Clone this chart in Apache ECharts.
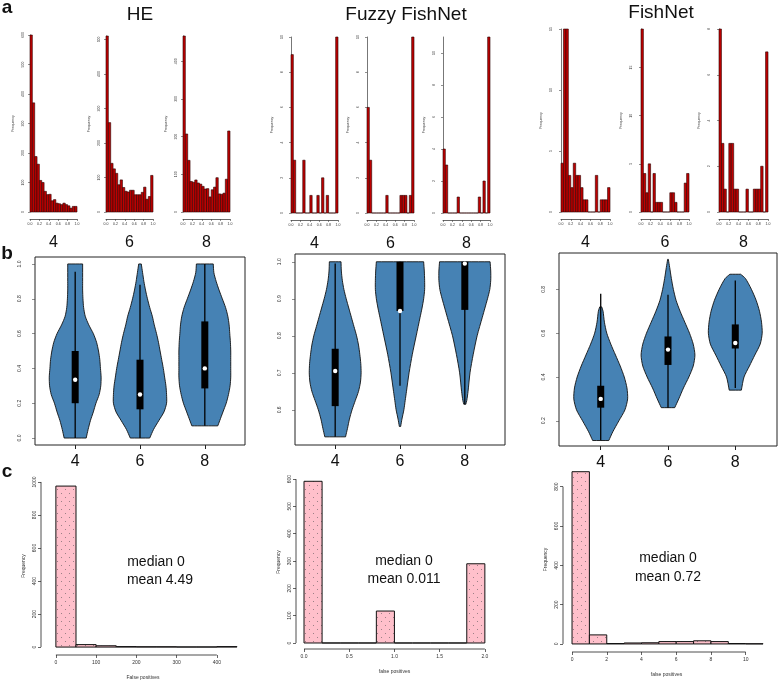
<!DOCTYPE html>
<html>
<head>
<meta charset="utf-8">
<script src="https://cdn.jsdelivr.net/npm/echarts@6.0.0/dist/echarts.min.js"></script>
<style>
html,body{margin:0;padding:0;background:#ffffff;}
#chart{width:778px;height:681px;}
</style>
</head>
<body>
<div id="chart"></div>
<script>
// ================= DATA =================
const methods = ['HE', 'Fuzzy FishNet', 'FishNet'];
const kLabels = ['4', '6', '8'];
const panelLetters = ['a', 'b', 'c'];

// row a: similarity histograms, 20 bins of 0.05 on [0,1]
const simBinWidth = 0.05;
const simTicks = [0, 0.2, 0.4, 0.6, 0.8, 1.0];
const heHist4 = [600,370,188,162,107,100,70,59,60,38,42,30,28,25,30,25,21,13,19,19];
const heHist6 = [510,259,141,125,112,79,93,71,60,58,63,63,50,50,50,57,72,37,45,106];
const heHist8 = [467,207,137,81,79,85,77,74,68,61,62,40,59,66,91,48,47,50,87,215];
const ffHist4 = [9,3,0,0,0,3,0,0,1,0,0,1,0,2,0,1,0,0,0,10];
const ffHist6 = [6,3,0,0,0,0,0,0,1,0,0,0,0,0,1,1,1,0,1,10];
const ffHist8 = [4,3,0,0,0,0,1,0,0,0,0,0,0,0,0,1,0,2,0,11];
const fnHist4 = [4,15,15,3,2,4,3,3,2,1,1,0,0,0,3,0,1,1,1,2];
const fnHist6 = [19,4,2,5,0,4,1,1,1,0,0,0,2,2,1,0,0,0,3,4];
const fnHist8 = [8,3,1,0,3,3,1,1,0,0,0,1,0,0,1,1,1,2,0,7];
const heHistTicks4 = [0,100,200,300,400,500,600];
const heHistTicks6 = [0,100,200,300,400,500];
const heHistTicks8 = [0,100,200,300,400];
const ffHistTicks = [0,2,4,6,8,10];
const fnHistTicks = [0,5,10,15];
const fnHistTicks8 = [0,2,4,6,8];

// row b: violin profiles [value, half-width], stats [low whisker, q1, median, q3, high whisker]
const heViolin4 = [[0,0.17],[0.05,0.2],[0.1,0.235],[0.15,0.28],[0.2,0.32],[0.25,0.37],[0.3,0.395],[0.35,0.4],[0.4,0.39],[0.45,0.38],[0.5,0.36],[0.55,0.33],[0.6,0.28],[0.65,0.21],[0.7,0.155],[0.75,0.13],[0.8,0.12],[0.85,0.115],[0.9,0.115],[1.0,0.115]];
const heViolin6 = [[0,0.15],[0.05,0.21],[0.1,0.29],[0.15,0.37],[0.2,0.41],[0.25,0.41],[0.3,0.4],[0.35,0.38],[0.4,0.36],[0.45,0.335],[0.5,0.31],[0.55,0.285],[0.6,0.255],[0.65,0.22],[0.7,0.19],[0.75,0.15],[0.8,0.115],[0.85,0.085],[0.9,0.06],[0.95,0.04],[1.0,0.02]];
const heViolin8 = [[0.07,0.2],[0.1,0.23],[0.15,0.28],[0.2,0.33],[0.25,0.365],[0.3,0.39],[0.35,0.4],[0.4,0.4],[0.45,0.4],[0.5,0.4],[0.55,0.395],[0.6,0.385],[0.65,0.375],[0.7,0.355],[0.75,0.32],[0.8,0.27],[0.85,0.22],[0.9,0.175],[0.95,0.14],[1.0,0.13]];
const ffViolin4 = [[0.527,0.16],[0.55,0.19],[0.575,0.22],[0.6,0.26],[0.625,0.31],[0.65,0.36],[0.675,0.39],[0.7,0.4],[0.725,0.395],[0.75,0.38],[0.775,0.36],[0.8,0.33],[0.825,0.29],[0.85,0.25],[0.875,0.21],[0.9,0.17],[0.925,0.135],[0.95,0.11],[0.975,0.095],[1.0,0.09]];
const ffViolin6 = [[0.555,0.01],[0.575,0.03],[0.6,0.06],[0.625,0.08],[0.65,0.1],[0.7,0.14],[0.75,0.19],[0.8,0.25],[0.85,0.31],[0.875,0.34],[0.9,0.365],[0.925,0.38],[0.95,0.38],[0.975,0.375],[1.0,0.365]];
const ffViolin8 = [[0.615,0.015],[0.625,0.03],[0.65,0.05],[0.7,0.08],[0.75,0.13],[0.8,0.19],[0.85,0.27],[0.875,0.31],[0.9,0.35],[0.925,0.385],[0.95,0.4],[0.975,0.4],[1.0,0.39]];
const fnViolin4 = [[0.11,0.12],[0.15,0.18],[0.2,0.27],[0.25,0.36],[0.3,0.4],[0.35,0.39],[0.4,0.35],[0.45,0.29],[0.5,0.22],[0.55,0.15],[0.6,0.09],[0.65,0.055],[0.7,0.035],[0.72,0.015]];
const fnViolin6 = [[0.26,0.1],[0.3,0.16],[0.35,0.23],[0.4,0.31],[0.45,0.375],[0.5,0.4],[0.55,0.375],[0.6,0.32],[0.65,0.25],[0.7,0.18],[0.75,0.12],[0.8,0.08],[0.85,0.05],[0.9,0.025],[0.937,0.005]];
const fnViolin8 = [[0.34,0.09],[0.4,0.13],[0.45,0.21],[0.5,0.29],[0.55,0.37],[0.6,0.4],[0.65,0.39],[0.7,0.36],[0.75,0.31],[0.8,0.24],[0.85,0.15],[0.869,0.08]];
const heViolinStats = [[0,0.2,0.335,0.5,0.955],[0,0.165,0.25,0.45,0.88],[0.07,0.285,0.4,0.67,1.0]];
const ffViolinStats = [[0.527,0.61,0.705,0.765,0.995],[0.665,0.867,0.867,1.0,1.0],[0.615,0.87,0.995,1.0,1.0]];
const fnViolinStats = [[0.11,0.26,0.30,0.36,0.78],[0.26,0.455,0.525,0.585,0.775],[0.35,0.53,0.555,0.64,0.84]];
const heViolinTicks = [0,0.2,0.4,0.6,0.8,1.0];
const ffViolinTicks = [0.6,0.7,0.8,0.9,1.0];
const fnViolinTicks = [0.2,0.4,0.6,0.8];

// row c: false positive histograms
const heFalsePos = [975,15,8,3,2,2,1,1,3];          // bins of 50 from 0
const ffFalsePos = [592,0,0,0,117,0,0,0,0,290];     // bins of 0.2 from 0
const fnFalsePos = [876,46,2,5,6,12,12,16,12,2,1];  // bins of 1 from 0
const heFpBin = 50, ffFpBin = 0.2, fnFpBin = 1;
const heFpXTicks = [0,100,200,300,400];
const heFpYTicks = [0,200,400,600,800,1000];
const ffFpXTicks = [0,0.5,1.0,1.5,2.0];
const ffFpYTicks = [0,100,200,300,400,500,600];
const fnFpXTicks = [0,2,4,6,8,10];
const fnFpYTicks = [0,200,400,600,800];
const fpXNames = ['False positives', 'false positives', 'false positives'];
const medianLabels = ['median 0', 'median 0', 'median 0'];
const meanLabels = ['mean 4.49', 'mean 0.011', 'mean 0.72'];

// ================= CHART =================
const FONT = '"Liberation Sans", Arial, Helvetica, sans-serif';
const chart = echarts.init(document.getElementById('chart'), null, {renderer: 'canvas', width: 778, height: 681});
const grids = [], xAxes = [], yAxes = [], series = [];

function addGrid(r, extra) {
  grids.push(Object.assign({left: r[0], top: r[1], width: r[2], height: r[3], show: false, containLabel: false}, extra || {}));
  return grids.length - 1;
}

function dotPattern() {
  const c = document.createElement('canvas');
  c.width = 8; c.height = 8;
  const g = c.getContext('2d');
  g.fillStyle = '#ffc0cb'; g.fillRect(0, 0, 8, 8);
  g.fillStyle = '#9c8086';
  g.fillRect(1, 1, 1, 1); g.fillRect(5, 5, 1, 1);
  return c;
}
const pinkDots = dotPattern();

function histSeries(g, counts, binW, style) {
  return {
    type: 'custom', xAxisIndex: g, yAxisIndex: g, clip: false,
    data: counts.map((c, i) => [i * binW, (i + 1) * binW, c]),
    encode: {x: [0, 1], y: 2},
    renderItem(params, api) {
      const p0 = api.coord([api.value(0), 0]);
      const p1 = api.coord([api.value(1), api.value(2)]);
      return {type: 'rect', shape: {x: p0[0], y: p1[1], width: p1[0] - p0[0], height: p0[1] - p1[1]}, style: Object.assign({}, style)};
    }
  };
}

function tinyAxisLabel(vals, extra) {
  return Object.assign({show: true, customValues: vals, fontSize: 3.5, color: '#333', fontFamily: FONT}, extra || {});
}

// ---- row a ----
function panelA(rect, counts, yMax, yTicks, k, yMargin) {
  const g = addGrid(rect);
  xAxes.push({
    gridIndex: g, type: 'value', min: 0, max: 1, offset: 7,
    axisLine: {show: true, onZero: false, lineStyle: {color: '#444', width: 0.8}},
    axisTick: {show: true, length: 2, customValues: simTicks, lineStyle: {color: '#444', width: 0.6}},
    axisLabel: tinyAxisLabel(simTicks, {formatter: v => v.toFixed(1), margin: 3}),
    splitLine: {show: false},
    name: k, nameLocation: 'middle', nameGap: 16,
    nameTextStyle: {fontSize: 16, color: '#111', fontFamily: FONT}
  });
  yAxes.push({
    gridIndex: g, type: 'value', min: 0, max: yMax,
    axisLine: {show: true, onZero: false, lineStyle: {color: '#777', width: 1}},
    axisTick: {show: true, length: 2, customValues: yTicks, lineStyle: {color: '#444', width: 0.6}},
    axisLabel: tinyAxisLabel(yTicks, {rotate: 90, margin: yMargin, formatter: v => String(v)}),
    splitLine: {show: false},
    name: 'Frequency', nameLocation: 'middle', nameGap: yMargin + 10, nameRotate: 90,
    nameTextStyle: {fontSize: 3.5, color: '#333', fontFamily: FONT}
  });
  series.push(histSeries(g, counts, simBinWidth, {fill: '#bf0000', stroke: '#2a0000', lineWidth: 0.6}));
}
panelA([30, 35, 47, 177], heHist4, 600, heHistTicks4, kLabels[0], 5);
panelA([106, 36, 47, 176], heHist6, 510, heHistTicks6, kLabels[1], 5);
panelA([183, 36, 47, 176], heHist8, 467, heHistTicks8, kLabels[2], 5);
panelA([291, 37, 47, 176], ffHist4, 10, ffHistTicks, kLabels[0], 7);
panelA([367, 37, 47, 176], ffHist6, 10, ffHistTicks, kLabels[1], 7);
panelA([443, 37, 47, 176], ffHist8, 11, ffHistTicks, kLabels[2], 7);
panelA([561, 29, 49, 183], fnHist4, 15, fnHistTicks, kLabels[0], 8);
panelA([641, 29, 48, 183], fnHist6, 19, fnHistTicks, kLabels[1], 8);
panelA([719, 29, 49, 183], fnHist8, 8, fnHistTicks8, kLabels[2], 8);

// ---- row b ----
function panelB(rect, yMin, yMax, yTicks, profiles, stats) {
  const g = addGrid(rect, {show: true, borderColor: '#222', borderWidth: 1, backgroundColor: 'transparent'});
  const pos = [1, 2, 3];
  xAxes.push({
    gridIndex: g, type: 'value', min: 0.38, max: 3.62,
    axisLine: {show: false, onZero: false},
    axisTick: {show: true, length: 4, customValues: pos, lineStyle: {color: '#222', width: 1}},
    axisLabel: {show: true, customValues: pos, formatter: v => kLabels[Math.round(v) - 1], fontSize: 16, margin: 9, color: '#111', fontFamily: FONT},
    splitLine: {show: false}
  });
  yAxes.push({
    gridIndex: g, type: 'value', min: yMin, max: yMax,
    axisLine: {show: false, onZero: false},
    axisTick: {show: true, length: 3, customValues: yTicks, lineStyle: {color: '#444', width: 0.6}},
    axisLabel: {show: true, customValues: yTicks, formatter: v => v.toFixed(1), rotate: 90, fontSize: 5, margin: 13, color: '#333', fontFamily: FONT},
    splitLine: {show: false}
  });
  series.push({
    type: 'custom', xAxisIndex: g, yAxisIndex: g,
    data: pos.map((p, i) => [p, stats[i][2]]),
    renderItem(params, api) {
      const i = params.dataIndex, x = pos[i], prof = profiles[i], st = stats[i];
      const right = prof.map(d => api.coord([x + d[1], d[0]]));
      const left = prof.slice().reverse().map(d => api.coord([x - d[1], d[0]]));
      // duplicate end points so the flat caps keep sharp corners under smoothing
      const pts = [right[0]].concat(right, [right[right.length - 1], left[0]], left, [left[left.length - 1]]);
      const lo = api.coord([x, st[0]]), q1 = api.coord([x, st[1]]), md = api.coord([x, st[2]]),
            q3 = api.coord([x, st[3]]), hi = api.coord([x, st[4]]);
      return {type: 'group', children: [
        {type: 'polygon', shape: {points: pts, smooth: 0.25}, style: {fill: '#4682b4', stroke: '#111', lineWidth: 0.9}},
        {type: 'line', shape: {x1: lo[0], y1: lo[1], x2: hi[0], y2: hi[1]}, style: {stroke: '#000', lineWidth: 1.3}},
        {type: 'rect', shape: {x: q1[0] - 3.5, y: q3[1], width: 7, height: q1[1] - q3[1]}, style: {fill: '#000'}},
        {type: 'circle', shape: {cx: md[0], cy: md[1], r: 2.2}, style: {fill: '#fff'}}
      ]};
    }
  });
}
panelB([35, 257, 210, 188], -0.04, 1.04, heViolinTicks, [heViolin4, heViolin6, heViolin8], heViolinStats);
panelB([295, 254, 210, 191], 0.505, 1.021, ffViolinTicks, [ffViolin4, ffViolin6, ffViolin8], ffViolinStats);
panelB([559, 253, 218, 193], 0.085, 0.966, fnViolinTicks, [fnViolin4, fnViolin6, fnViolin8], fnViolinStats);

// ---- row c ----
function panelC(rect, xMin, xMax, yMin, yMax, counts, binW, xTicks, yTicks, xFmt, xName) {
  const g = addGrid(rect);
  xAxes.push({
    gridIndex: g, type: 'value', min: xMin, max: xMax,
    axisLine: {show: false, onZero: false},
    axisTick: {show: true, length: 3, customValues: xTicks, lineStyle: {color: '#222', width: 0.7}},
    axisLabel: {show: true, customValues: xTicks, formatter: xFmt, fontSize: 5, margin: 5, color: '#333', fontFamily: FONT},
    splitLine: {show: false},
    name: xName, nameLocation: 'middle', nameGap: 20,
    nameTextStyle: {fontSize: 5, color: '#333', fontFamily: FONT}
  });
  yAxes.push({
    gridIndex: g, type: 'value', min: yMin, max: yMax,
    axisLine: {show: false, onZero: false},
    axisTick: {show: true, length: 3, customValues: yTicks, lineStyle: {color: '#222', width: 0.7}},
    axisLabel: {show: true, customValues: yTicks, formatter: v => String(v), rotate: 90, fontSize: 5, margin: 4, color: '#333', fontFamily: FONT},
    splitLine: {show: false},
    name: 'Frequency', nameLocation: 'middle', nameGap: 15, nameRotate: 90,
    nameTextStyle: {fontSize: 5, color: '#333', fontFamily: FONT}
  });
  series.push(histSeries(g, counts, binW, {fill: {image: pinkDots, repeat: 'repeat'}, stroke: '#111', lineWidth: 1}));
  // R-style axis lines spanning first..last tick
  series.push({
    type: 'custom', xAxisIndex: g, yAxisIndex: g, clip: false, silent: true,
    data: [[xMin, yMin]],
    renderItem(params, api) {
      const a = api.coord([xTicks[0], yMin]), b = api.coord([xTicks[xTicks.length - 1], yMin]);
      const c = api.coord([xMin, yTicks[0]]), d = api.coord([xMin, yTicks[yTicks.length - 1]]);
      return {type: 'group', children: [
        {type: 'line', shape: {x1: a[0], y1: a[1], x2: b[0], y2: b[1]}, style: {stroke: '#222', lineWidth: 0.8}},
        {type: 'line', shape: {x1: c[0], y1: c[1], x2: d[0], y2: d[1]}, style: {stroke: '#222', lineWidth: 0.8}}
      ]};
    }
  });
}
panelC([41, 477, 204, 178], -37, 470, -48, 1030, heFalsePos, heFpBin, heFpXTicks, heFpYTicks, v => String(v), fpXNames[0]);
panelC([296, 475, 197, 174], -0.0885, 2.09, -22, 615, ffFalsePos, ffFpBin, ffFpXTicks, ffFpYTicks, v => v.toFixed(1), fpXNames[1]);
panelC([563, 467, 207, 185], -0.52, 11.4, -41, 900, fnFalsePos, fnFpBin, fnFpXTicks, fnFpYTicks, v => String(v), fpXNames[2]);

// ---- text annotations ----
function txt(x, y, s, size, weight) {
  return {type: 'text', x: x, y: y, silent: true,
    style: {text: s, fontSize: size, fontWeight: weight || 'normal', fontFamily: FONT, fill: '#111',
      align: 'center', verticalAlign: 'middle', textAlign: 'center', textVerticalAlign: 'middle'}};
}
const graphics = [
  txt(7, 8, panelLetters[0], 19, 'bold'),
  txt(7, 254, panelLetters[1], 19, 'bold'),
  txt(7, 472, panelLetters[2], 19, 'bold'),
  txt(140, 15, methods[0], 19),
  txt(406, 15, methods[1], 19),
  txt(661, 13, methods[2], 19),
  txt(156, 562, medianLabels[0], 14), txt(160, 580, meanLabels[0], 14),
  txt(404, 561, medianLabels[1], 14), txt(404, 579, meanLabels[1], 14),
  txt(668, 558, medianLabels[2], 14), txt(668, 577, meanLabels[2], 14)
];

chart.setOption({
  animation: false,
  backgroundColor: '#ffffff',
  grid: grids,
  xAxis: xAxes,
  yAxis: yAxes,
  series: series,
  graphic: graphics
});
</script>
</body>
</html>
